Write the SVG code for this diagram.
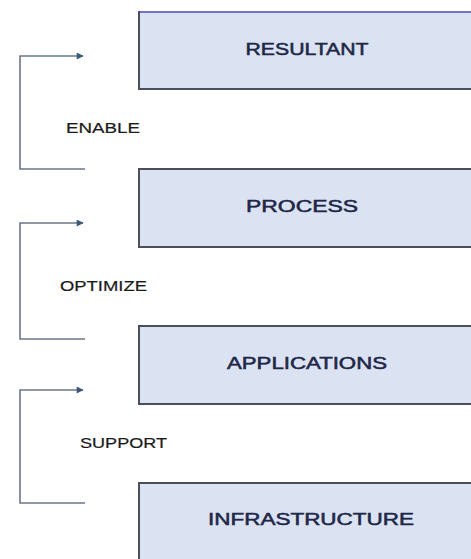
<svg xmlns="http://www.w3.org/2000/svg" width="471" height="559" viewBox="0 0 471 559">
  <style>
    .box { fill: #dbe3f2; stroke: #4a4f5a; stroke-width: 2; }
    .boxtop { stroke: #7672cc; stroke-width: 2; }
    .title { font-family: "Liberation Sans", Arial, sans-serif; font-size: 16px; fill: #1e2748; stroke: #1e2748; stroke-width: 0.5; text-anchor: middle; }
    .label { font-family: "Liberation Sans", Arial, sans-serif; font-size: 14px; fill: #1a1a1a; stroke: #1a1a1a; stroke-width: 0.2; }
    .conn { fill: none; stroke: #6b7785; stroke-width: 1.6; }
  </style>
  <defs>
    <marker id="arrow" viewBox="0 0 10 10" refX="9" refY="5" markerWidth="11" markerHeight="7" orient="auto" markerUnits="userSpaceOnUse">
      <path d="M0,0 L10,5 L0,10 z" fill="#3d5a7a"/>
    </marker>
  </defs>
  <rect width="471" height="559" fill="#ffffff"/>

  <!-- stacked layers -->
  <g id="resultant">
    <rect class="box" x="139" y="12" width="340" height="77"/>
    <line class="boxtop" x1="140" y1="12" x2="471" y2="12"/>
    <text class="title" x="307" y="55" textLength="123" lengthAdjust="spacingAndGlyphs">RESULTANT</text>
  </g>
  <g id="process">
    <rect class="box" x="139" y="169" width="340" height="78"/>
    <text class="title" x="302" y="212" textLength="112" lengthAdjust="spacingAndGlyphs">PROCESS</text>
  </g>
  <g id="applications">
    <rect class="box" x="139" y="326" width="340" height="78"/>
    <text class="title" x="307" y="369" textLength="160" lengthAdjust="spacingAndGlyphs">APPLICATIONS</text>
  </g>
  <g id="infrastructure">
    <rect class="box" x="139" y="483" width="340" height="90"/>
    <text class="title" x="311" y="525" textLength="206" lengthAdjust="spacingAndGlyphs">INFRASTRUCTURE</text>
  </g>

  <!-- bracket connectors between layers -->
  <g id="connectors">
    <path class="conn" d="M85,169 H20 V56 H83" marker-end="url(#arrow)"/>
    <path class="conn" d="M85,339 H20 V223 H83" marker-end="url(#arrow)"/>
    <path class="conn" d="M85,503 H20 V390 H83" marker-end="url(#arrow)"/>
  </g>

  <g id="labels">
    <text class="label" x="66" y="133" textLength="74" lengthAdjust="spacingAndGlyphs">ENABLE</text>
    <text class="label" x="60" y="291" textLength="87" lengthAdjust="spacingAndGlyphs">OPTIMIZE</text>
    <text class="label" x="80" y="448" textLength="87" lengthAdjust="spacingAndGlyphs">SUPPORT</text>
  </g>
</svg>
